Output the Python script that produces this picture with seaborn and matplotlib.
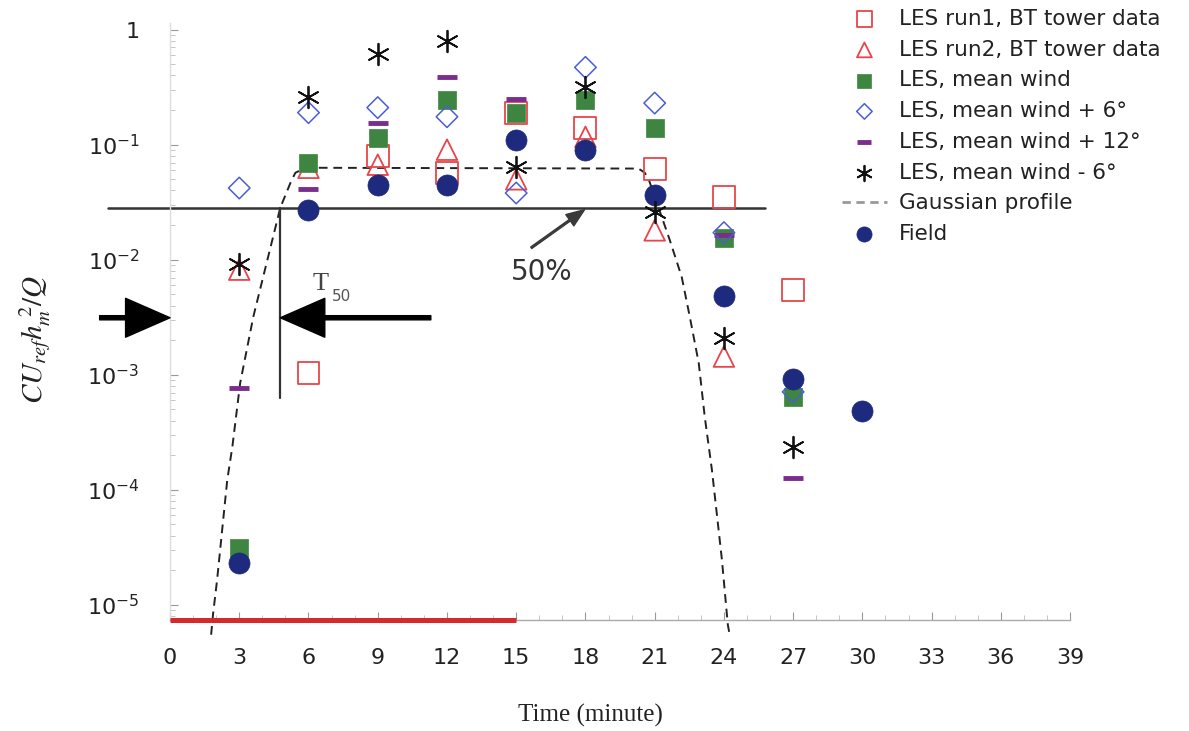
import matplotlib.pyplot as plt
import seaborn as sns
from matplotlib.lines import Line2D
from matplotlib.ticker import FixedLocator, MultipleLocator, LogLocator, NullFormatter

sns.set_theme(style="ticks")
plt.rcParams['font.family'] = ['DejaVu Sans']

# values: time (minute) and CU_ref h_m^2 / Q
t_run1 = [6, 9, 12, 15, 18, 21, 24, 27]
c_run1 = [1.04e-3, 0.079, 0.057, 0.19, 0.14, 0.061, 0.0353, 0.0055]
t_run2 = [3, 6, 9, 12, 15, 18, 21, 24]
c_run2 = [0.0082, 0.063, 0.067, 0.0905, 0.050, 0.117, 0.018, 1.44e-3]
t_mean = [3, 6, 9, 12, 15, 18, 21, 24, 27]
c_mean = [3.1e-5, 0.070, 0.115, 0.246, 0.19, 0.246, 0.14, 0.0155, 6.4e-4]
t_p6 = [3, 6, 9, 12, 15, 18, 21, 24, 27]
c_p6 = [0.042, 0.19, 0.21, 0.175, 0.038, 0.47, 0.23, 0.0172, 7.1e-4]
t_p12 = [3, 6, 9, 12, 15, 24, 27]
c_p12 = [7.6e-4, 0.041, 0.155, 0.39, 0.25, 0.0165, 1.27e-4]
t_m6 = [3, 6, 9, 12, 15, 18, 21, 24, 27]
c_m6 = [0.0091, 0.26, 0.61, 0.79, 0.064, 0.32, 0.026, 0.0021, 2.35e-4]
t_field = [3, 6, 9, 12, 15, 18, 21, 24, 27, 30]
c_field = [2.3e-5, 0.0272, 0.045, 0.045, 0.110, 0.0905, 0.0367, 0.0048, 9.1e-4, 4.8e-4]

# gaussian profile
gauss_t = [1.78, 1.87, 2.04, 2.26, 2.48, 2.70, 3.04, 3.61, 4.22, 4.78, 5.22, 5.43, 5.8, 6.2,
           20.3, 20.57, 20.74, 21.65, 22.17, 22.52, 22.91, 23.17, 23.48, 23.91, 24.17, 24.25]
gauss_c = [5.5e-6, 8.5e-6, 1.65e-5, 4.5e-5, 1.22e-4, 2.36e-4, 8.5e-4, 3.2e-3, 0.0100, 0.0284,
           0.0467, 0.057, 0.062, 0.063, 0.062, 0.057, 0.050, 0.0149, 0.0071, 0.0032,
           1.26e-3, 4.3e-4, 1.49e-4, 2.5e-5, 6.7e-6, 5.5e-6]

half_level = 0.028      # 50% line
release_end = 15        # red bar, release period
t50 = 4.78
arrow_level = 3.13e-3

y_ticks = [1e-5, 1e-4, 1e-3, 1e-2, 1e-1, 1]
y_ticklabels = ["$10^{-5}$", "$10^{-4}$", "$10^{-3}$", "$10^{-2}$", "$10^{-1}$", "1"]

red = "#e8454a"
green = "#3d8540"
navy = "#1d2a7e"
blue = "#4a5fd0"
purple = "#7b2d8e"

fig = plt.figure(figsize=(11.89, 7.31), dpi=100)
ax = fig.add_axes([0.143, 0.152, 0.757, 0.817])
ax.set_yscale("log")

# gaussian profile
sns.lineplot(x=gauss_t, y=gauss_c, sort=False, estimator=None, color="#222222",
             linestyle=(0, (4.5, 3)), linewidth=1.4, clip_on=False, ax=ax,
             label="Gaussian profile")

sns.scatterplot(x=t_run1, y=c_run1, marker="s", s=250, facecolor="none", edgecolor=red,
                linewidth=1.3, ax=ax, label="LES run1, BT tower data", zorder=3)
sns.scatterplot(x=t_run2, y=c_run2, marker="^", s=220, facecolor="none", edgecolor=red,
                linewidth=1.3, ax=ax, label="LES run2, BT tower data", zorder=3)
sns.scatterplot(x=t_mean, y=c_mean, marker="s", s=170, color=green, edgecolor=green,
                linewidth=0.5, ax=ax, label="LES, mean wind", zorder=3)
sns.scatterplot(x=t_p12, y=c_p12, marker="_", s=200, color=purple, linewidth=3.5,
                ax=ax, label="LES, mean wind + 12°", zorder=3)
sns.scatterplot(x=t_p6, y=c_p6, marker="D", s=120, facecolor="none", edgecolor=blue,
                linewidth=1.1, ax=ax, label="LES, mean wind + 6°", zorder=3)
sns.scatterplot(x=t_field, y=c_field, marker="o", s=230, color=navy, edgecolor=navy,
                linewidth=0.5, ax=ax, label="Field", zorder=4)
sns.scatterplot(x=t_m6, y=c_m6, marker=(6, 2, 0), s=240, color="#111111", linewidth=1.3,
                ax=ax, label="LES, mean wind - 6°", zorder=5)

# reference lines and annotations
ax.plot([-2.7, 25.8], [half_level, half_level], color="#333333", lw=1.8, clip_on=False)
ax.plot([t50, t50], [half_level, 6.3e-4], color="#333333", lw=1.6)
ax.plot([0, release_end], [7.4e-6, 7.4e-6], color="#d42a2e", lw=3.6, clip_on=False,
        solid_capstyle="butt", zorder=6)

big_arrow = dict(width=3, headwidth=28, headlength=32, color="black", shrink=0)
ax.annotate("", xy=(0, arrow_level), xytext=(-3.05, arrow_level),
            arrowprops=big_arrow, annotation_clip=False)
ax.annotate("", xy=(t50, arrow_level), xytext=(11.3, arrow_level),
            arrowprops=big_arrow)
ax.annotate("", xy=(17.96, 0.0272), xytext=(15.65, 0.0127),
            arrowprops=dict(width=1.3, headwidth=10, headlength=13, color="#3a3a3a", shrink=0))
ax.text(16.1, 0.0079, "50%", fontsize=20, color="#333333", ha="center", va="center")
ax.text(6.52, 0.0062, "T", fontsize=19, family="Liberation Serif", color="#444444",
        ha="center", va="center")
ax.text(7.45, 0.0048, "50", fontsize=11, color="#555555", ha="center", va="center")

# axes
ax.set_xlim(0, 39)
ax.set_ylim(7.4e-6, 1.15)
ax.xaxis.set_major_locator(MultipleLocator(3))
ax.xaxis.set_minor_locator(MultipleLocator(1))
ax.yaxis.set_major_locator(FixedLocator(y_ticks))
ax.set_yticklabels(y_ticklabels)
ax.yaxis.set_minor_locator(LogLocator(base=10, subs=range(2, 10)))
ax.yaxis.set_minor_formatter(NullFormatter())
ax.tick_params(axis="both", which="major", direction="in", length=6, width=0.8,
               color="#999999", labelsize=16, labelcolor="#222222")
ax.tick_params(axis="both", which="minor", direction="in", length=3.5, width=0.6,
               color="#bbbbbb")
ax.tick_params(axis="x", which="major", pad=20)
ax.tick_params(axis="y", which="major", pad=22)

sns.despine(ax=ax)
ax.spines["left"].set_color("#dddddd")
ax.spines["bottom"].set_color("#aaaaaa")
ax.spines["left"].set_linewidth(1.0)
ax.spines["bottom"].set_linewidth(1.0)

ax.set_xlabel("Time (minute)", fontsize=18, family="Liberation Serif", color="#222222")
ax.xaxis.set_label_coords(0.467, -0.14)
ax.set_ylabel(r"$CU_{ref}h_m^{\ 2}/Q$", fontsize=21, math_fontfamily="stix",
              color="#222222")
ax.yaxis.set_label_coords(-0.13, 0.47)

# legend in the original order
handles, labels = ax.get_legend_handles_labels()
hmap = dict(zip(labels, handles))
hmap["Gaussian profile"] = Line2D([], [], color="#999999", linestyle=(0, (3, 2)), lw=2)
order = ["LES run1, BT tower data", "LES run2, BT tower data", "LES, mean wind",
         "LES, mean wind + 6°", "LES, mean wind + 12°", "LES, mean wind - 6°",
         "Gaussian profile", "Field"]
ax.legend([hmap[k] for k in order], order, loc="upper left",
          bbox_to_anchor=(0.708, 0.988), bbox_transform=fig.transFigure, frameon=False,
          fontsize=15.5, labelspacing=0.5, handlelength=2.1, handletextpad=0.55,
          markerscale=0.72, borderaxespad=0, borderpad=0, labelcolor="#222222")

fig.savefig("out.png", dpi=100)
